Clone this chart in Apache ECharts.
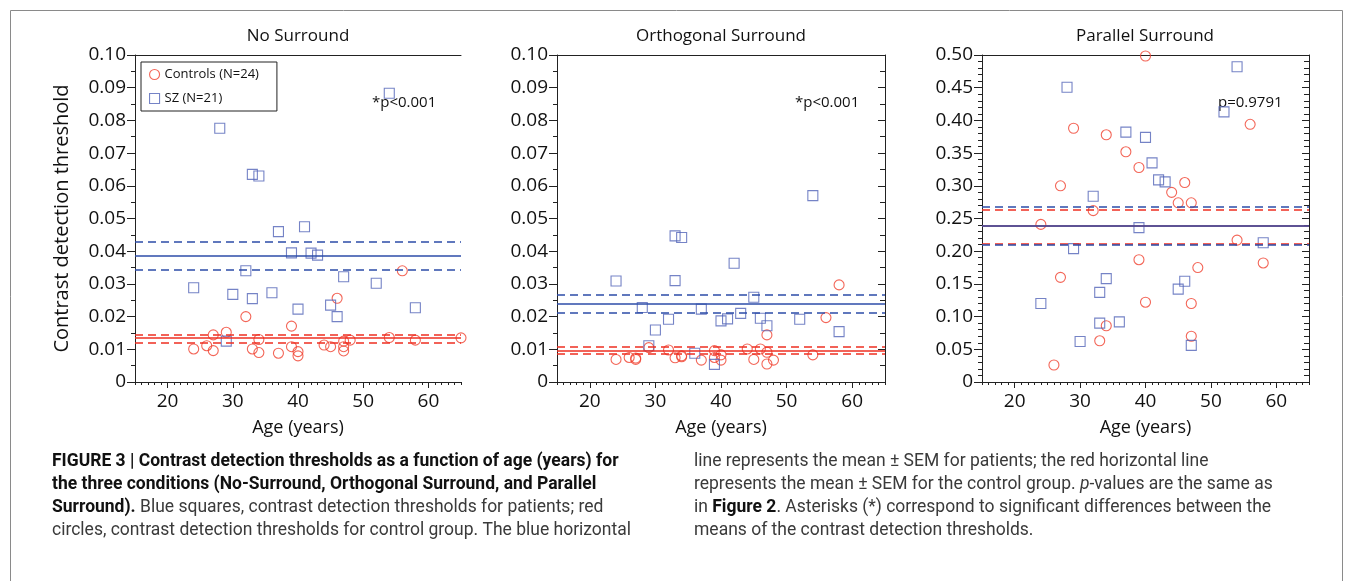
<!DOCTYPE html>
<html>
<head>
<meta charset="utf-8">
<title>Contrast detection thresholds vs age</title>
<script src="https://cdn.jsdelivr.net/npm/echarts@6/dist/echarts.min.js"></script>
<style>
  html, body { margin: 0; padding: 0; background: #fff; }
  #main { width: 1353px; height: 581px; }
</style>
</head>
<body>
<div id="main"></div>
<script>
// ---- data: [age, threshold] ----
var panelTitles = ['No Surround', 'Orthogonal Surround', 'Parallel Surround'];
var pTexts = ['*p<0.001', '*p<0.001', 'p=0.9791'];
var ageTicks = [20, 30, 40, 50, 60];

var noSurroundControls = [[56,0.0340],[46,0.0256],[32,0.0200],[39,0.0171],[29,0.0152],[27,0.0144],[34,0.0130],[47,0.0125],[48,0.0128],[54,0.0136],[58,0.0128],[24,0.0101],[26,0.0111],[27,0.0096],[33,0.0101],[34,0.0090],[37,0.0088],[39,0.0108],[40,0.0093],[40,0.0080],[44,0.0113],[45,0.0108],[47,0.0108],[47,0.0095],[65,0.0135]];
var noSurroundSZ = [[28,0.0776],[33,0.0635],[34,0.0630],[54,0.0883],[37,0.0460],[41,0.0475],[39,0.0395],[42,0.0394],[43,0.0388],[32,0.0340],[24,0.0288],[30,0.0268],[33,0.0255],[36,0.0273],[47,0.0322],[52,0.0302],[40,0.0223],[45,0.0235],[46,0.0200],[58,0.0227],[29,0.0125]];

var orthoControls = [[58,0.0297],[56,0.0197],[47,0.0144],[29,0.0105],[32,0.0098],[39,0.0096],[44,0.0101],[46,0.0101],[47,0.0091],[24,0.0069],[26,0.0075],[27,0.0069],[27,0.0073],[33,0.0074],[34,0.0080],[34,0.0077],[37,0.0067],[40,0.0083],[40,0.0067],[39,0.0075],[45,0.0069],[47,0.0055],[48,0.0067],[54,0.0083]];
var orthoSZ = [[54,0.0570],[33,0.0447],[34,0.0442],[24,0.0309],[33,0.0310],[42,0.0363],[45,0.0259],[28,0.0228],[37,0.0223],[32,0.0192],[30,0.0159],[40,0.0187],[41,0.0193],[43,0.0210],[46,0.0195],[47,0.0172],[52,0.0192],[58,0.0154],[29,0.0111],[36,0.0088],[39,0.0054]];

var parallelControls = [[40,0.4985],[29,0.388],[34,0.378],[37,0.352],[39,0.328],[56,0.394],[27,0.300],[46,0.305],[44,0.290],[45,0.274],[47,0.274],[32,0.262],[24,0.241],[54,0.217],[39,0.187],[27,0.160],[48,0.175],[58,0.182],[40,0.122],[47,0.120],[34,0.086],[33,0.063],[47,0.070],[26,0.026]];
var parallelSZ = [[28,0.4506],[54,0.482],[52,0.413],[37,0.382],[40,0.374],[41,0.335],[42,0.309],[43,0.306],[32,0.284],[39,0.236],[29,0.204],[58,0.213],[24,0.120],[33,0.137],[34,0.158],[45,0.142],[46,0.154],[33,0.090],[36,0.092],[30,0.062],[47,0.056]];

// mean - SEM, mean, mean + SEM
var noSurroundSZLines = [0.0342, 0.0385, 0.0428];
var noSurroundCtlLines = [0.0121, 0.0134, 0.0146];
var orthoSZLines = [0.0212, 0.0240, 0.0268];
var orthoCtlLines = [0.0085, 0.0096, 0.0108];
var parallelSZLines = [0.2095, 0.2385, 0.268];
var parallelCtlLines = [0.212, 0.2385, 0.263];

var yMaxes = [0.1, 0.1, 0.5];
var yIntervals = [0.01, 0.01, 0.05];
var yMinorSplits = [2, 2, 5];

var controlsName = 'Controls (N=24)';
var szName = 'SZ (N=21)';

var panels = [
  { ctl: noSurroundControls, sz: noSurroundSZ, ctlLines: noSurroundCtlLines, szLines: noSurroundSZLines },
  { ctl: orthoControls, sz: orthoSZ, ctlLines: orthoCtlLines, szLines: orthoSZLines },
  { ctl: parallelControls, sz: parallelSZ, ctlLines: parallelCtlLines, szLines: parallelSZLines }
];

var RED = '#f0402e', BLUE_PT = '#5264b8', BLUE_LN = '#2c4ca8', RED_LN = '#ee2f22';
var FONT = '"Open Sans", "Noto Sans", sans-serif';
var AXIS = { color: '#222', width: 1 };

var myChart = echarts.init(document.getElementById('main'));

var grids = [
  { left: 135, top: 55, width: 326, height: 327 },
  { left: 557, top: 55, width: 328, height: 327 },
  { left: 982, top: 55, width: 327, height: 327 }
];

var xAxes = [], yAxes = [], series = [];

function yFmt(v) { return v === 0 ? '0' : v.toFixed(2); }

function meanLines(lines, color) {
  return {
    silent: true, symbol: 'none', animation: false, precision: 6,
    label: { show: false },
    lineStyle: { color: color, width: 1.5, type: 'solid' },
    data: [
      { yAxis: lines[1] },
      { yAxis: lines[0], lineStyle: { type: [8, 5] } },
      { yAxis: lines[2], lineStyle: { type: [8, 5] } }
    ]
  };
}

panels.forEach(function (p, i) {
  var xi = xAxes.length;
  // bottom axis: minor (1 year) ticks + labels
  xAxes.push({
    gridIndex: i, type: 'value', position: 'bottom', min: 15, max: 65, interval: 1,
    axisLine: { show: true, onZero: false, lineStyle: AXIS },
    axisTick: { show: true, length: 3, lineStyle: AXIS },
    axisLabel: {
      customValues: ageTicks, fontSize: 19, fontFamily: FONT, color: '#111', margin: 10,
      formatter: function (v) { return v % 10 === 0 ? String(v) : ''; }
    },
    splitLine: { show: false },
    name: 'Age (years)', nameLocation: 'middle', nameGap: 37,
    nameTextStyle: { fontSize: 18, fontFamily: FONT, color: '#111' }
  });
  // overlay: longer major ticks every 10 years
  xAxes.push({
    gridIndex: i, type: 'value', position: 'bottom', min: 15, max: 65, interval: 1,
    axisLine: { show: false, onZero: false },
    axisTick: { show: true, length: 6, customValues: ageTicks, lineStyle: AXIS },
    axisLabel: { show: false },
    splitLine: { show: false }
  });
  // top frame line
  xAxes.push({
    gridIndex: i, type: 'value', position: 'top', min: 15, max: 65,
    axisLine: { show: true, onZero: false, lineStyle: AXIS },
    axisTick: { show: false }, axisLabel: { show: false }, splitLine: { show: false }
  });

  var yi = yAxes.length;
  var left = {
    gridIndex: i, type: 'value', position: 'left', min: 0, max: yMaxes[i], interval: yIntervals[i],
    axisLine: { show: true, onZero: false, lineStyle: AXIS },
    axisTick: { show: true, length: 8, lineStyle: AXIS },
    minorTick: { show: true, splitNumber: yMinorSplits[i], length: 4, lineStyle: AXIS },
    axisLabel: { formatter: yFmt, fontSize: 19, fontFamily: FONT, color: '#111', margin: 9 },
    splitLine: { show: false }, minorSplitLine: { show: false }
  };
  if (i === 0) {
    left.name = 'Contrast detection threshold';
    left.nameLocation = 'middle';
    left.nameGap = 63;
    left.nameTextStyle = { fontSize: 20, fontFamily: FONT, color: '#111' };
  }
  yAxes.push(left);
  if (i > 0) {
    yAxes.push({
      gridIndex: i, type: 'value', position: 'right', min: 0, max: yMaxes[i], interval: yIntervals[i],
      axisLine: { show: true, onZero: false, lineStyle: AXIS },
      axisTick: { show: true, inside: true, length: 7, lineStyle: AXIS },
      minorTick: { show: true, splitNumber: yMinorSplits[i], length: 5, lineStyle: AXIS },
      axisLabel: { show: false },
      splitLine: { show: false }, minorSplitLine: { show: false }
    });
  }

  series.push({
    name: controlsName, type: 'scatter', xAxisIndex: xi, yAxisIndex: yi,
    symbol: 'circle', symbolSize: 10,
    itemStyle: { color: 'rgba(0,0,0,0)', borderColor: RED, borderWidth: 1.1 },
    data: p.ctl,
    markLine: meanLines(p.ctlLines, RED_LN)
  });
  series.push({
    name: szName, type: 'scatter', xAxisIndex: xi, yAxisIndex: yi,
    symbol: 'rect', symbolSize: 10,
    itemStyle: { color: 'rgba(0,0,0,0)', borderColor: BLUE_PT, borderWidth: 1.1 },
    data: p.sz,
    markLine: meanLines(p.szLines, BLUE_LN)
  });
});

var graphics = [
  { type: 'rect', shape: { x: 10.5, y: 10.5, width: 1332, height: 620 },
    style: { fill: 'none', stroke: '#8a8a8a', lineWidth: 1 }, silent: true }
];
var titleX = [298, 721, 1145];
var pX = [372, 795, 1218];
panelTitles.forEach(function (t, i) {
  graphics.push({ type: 'text', x: titleX[i], y: 36,
    style: { text: t, fontSize: 17, fontFamily: FONT, fill: '#111', align: 'center', verticalAlign: 'middle' } });
  graphics.push({ type: 'text', x: pX[i], y: 103,
    style: { text: pTexts[i], fontSize: 15, fontFamily: FONT, fill: '#111', align: 'left', verticalAlign: 'middle' } });
});

// caption
var capFont = 'Roboto, "Liberation Sans", sans-serif';
var capSize = 17.5;
var capRich = {
  b: { fontWeight: 'bold', fill: '#111', fontSize: capSize, fontFamily: capFont },
  n: { fill: '#3a3a3a', fontSize: capSize, fontFamily: capFont },
  i: { fill: '#3a3a3a', fontStyle: 'italic', fontSize: capSize, fontFamily: capFont }
};
var captionLines = [
  [52, 462, '{b|FIGURE 3 | Contrast detection thresholds as a function of age (years) for}'],
  [52, 485, '{b|the three conditions (No-Surround, Orthogonal Surround, and Parallel}'],
  [52, 508, '{b|Surround).}{n| Blue squares, contrast detection thresholds for patients; red}'],
  [52, 531, '{n|circles, contrast detection thresholds for control group. The blue horizontal}'],
  [694, 462, '{n|line represents the mean ± SEM for patients; the red horizontal line}'],
  [694, 485, '{n|represents the mean ± SEM for the control group. }{i|p}{n|-values are the same as}'],
  [694, 508, '{n|in }{b|Figure 2}{n|. Asterisks (*) correspond to significant differences between the}'],
  [694, 531, '{n|means of the contrast detection thresholds.}']
];
captionLines.forEach(function (c) {
  graphics.push({ type: 'text', x: c[0], y: c[1],
    style: { text: c[2], rich: capRich, fontSize: capSize, fontFamily: capFont, verticalAlign: 'middle', align: 'left' } });
});

myChart.setOption({
  animation: false,
  backgroundColor: '#fff',
  grid: grids,
  xAxis: xAxes,
  yAxis: yAxes,
  legend: {
    left: 141, top: 62, orient: 'vertical',
    padding: [6, 18, 6, 8], itemGap: 11, itemWidth: 10, itemHeight: 10,
    borderColor: '#222', borderWidth: 1, selectedMode: false,
    textStyle: { fontSize: 13, fontFamily: FONT, color: '#111' },
    data: [
      { name: controlsName, icon: 'circle', itemStyle: { color: 'rgba(0,0,0,0)', borderColor: RED, borderWidth: 1.1 } },
      { name: szName, icon: 'rect', itemStyle: { color: 'rgba(0,0,0,0)', borderColor: BLUE_PT, borderWidth: 1.1 } }
    ]
  },
  graphic: graphics,
  series: series
});
</script>
</body>
</html>
